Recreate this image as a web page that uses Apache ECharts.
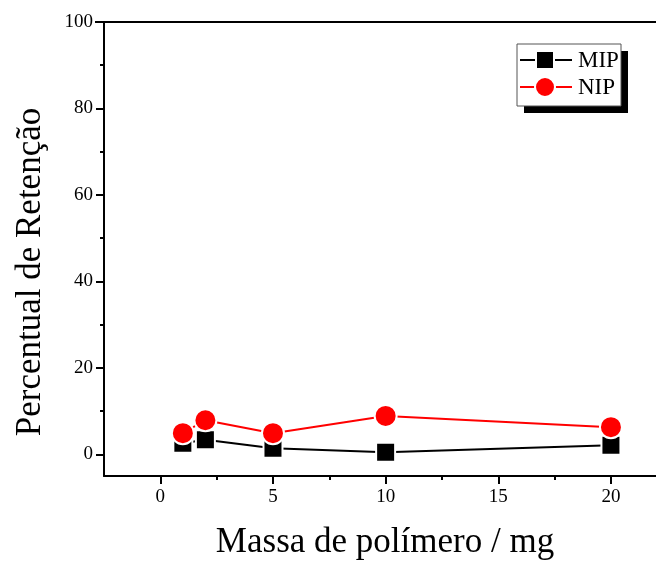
<!DOCTYPE html>
<html>
<head>
<meta charset="utf-8">
<script src="https://cdn.jsdelivr.net/npm/echarts@6/dist/echarts.min.js"></script>
<style>html,body{margin:0;padding:0;background:#fff}#c{width:656px;height:561px}</style>
</head>
<body>
<div id="c"></div>
<script>
const massas = [1, 2, 5, 10, 20];
const mip = [2.6, 3.4, 1.4, 0.5, 2.1];
const nip = [4.9, 7.9, 4.9, 8.9, 6.3];
const seriesNames = ['MIP', 'NIP'];
const xMajor = [0, 5, 10, 15, 20];
const xMinor = [2.5, 7.5, 12.5, 17.5];
const yMajor = [0, 20, 40, 60, 80, 100];
const yMinor = [10, 30, 50, 70, 90];
const xTitle = 'Massa de polímero / mg';
const yTitle = 'Percentual de Retenção';

const FONT = '"Liberation Serif","Times New Roman",serif';
const chart = echarts.init(document.getElementById('c'), null, {renderer: 'canvas'});
const pairs = (xs, ys) => xs.map((x, i) => [x, ys[i]]);

const baseX = {type: 'value', min: -2.5, max: 22, splitLine: {show: false}};
const baseY = {type: 'value', min: -5, max: 100, splitLine: {show: false}};

// legend box geometry
const LX = 517, LY = 44, LW = 104, LH = 62, SH = 7;
const legendItems = [
  {name: seriesNames[0], y: 60, color: '#000', shape: 'rect'},
  {name: seriesNames[1], y: 87, color: '#ff0000', shape: 'circle'}
];
const legendGraphics = [
  {type: 'rect', shape: {x: LX + SH, y: LY + SH, width: LW, height: LH}, style: {fill: '#000'}, z: 100},
  {type: 'rect', shape: {x: LX, y: LY, width: LW, height: LH}, style: {fill: '#fff', stroke: '#555', lineWidth: 1}, z: 101}
];
legendItems.forEach(it => {
  legendGraphics.push({type: 'line', shape: {x1: 520, y1: it.y, x2: 572, y2: it.y}, style: {stroke: it.color, lineWidth: 2}, z: 102});
  if (it.shape === 'rect') {
    legendGraphics.push({type: 'rect', shape: {x: 545 - 9, y: it.y - 9, width: 18, height: 18}, style: {fill: it.color, stroke: '#fff', lineWidth: 2}, z: 103});
  } else {
    legendGraphics.push({type: 'circle', shape: {cx: 545, cy: it.y, r: 10}, style: {fill: it.color, stroke: '#fff', lineWidth: 2}, z: 103});
  }
  legendGraphics.push({type: 'text', x: 578, y: it.y + 1, style: {text: it.name, font: '23px ' + FONT, fill: '#000', textVerticalAlign: 'middle', verticalAlign: 'middle'}, z: 103});
});

chart.setOption({
  animation: false,
  backgroundColor: '#fff',
  grid: {left: 104, top: 22, right: 0, bottom: 85},
  graphic: legendGraphics.concat([
    {type: 'text', x: 385, y: 543, style: {text: xTitle, font: '35px ' + FONT, fill: '#000', align: 'center', verticalAlign: 'middle'}},
    {type: 'text', x: 31, y: 272, rotation: Math.PI / 2, style: {text: yTitle, font: '35px ' + FONT, fill: '#000', align: 'center', verticalAlign: 'middle'}},
    {type: 'line', shape: {x1: 95, y1: 22, x2: 105, y2: 22}, style: {stroke: '#000', lineWidth: 2}}
  ]),
  xAxis: [
    Object.assign({}, baseX, {
      position: 'bottom',
      axisLine: {show: true, onZero: false, lineStyle: {color: '#000', width: 2}},
      axisTick: {show: true, length: 8, customValues: xMajor, lineStyle: {color: '#000', width: 2}},
      axisLabel: {show: true, customValues: xMajor, margin: 12, fontFamily: FONT, fontSize: 19, color: '#000'}
    }),
    Object.assign({}, baseX, {
      position: 'bottom',
      axisLine: {show: false, onZero: false},
      axisTick: {show: true, length: 4, customValues: xMinor, lineStyle: {color: '#000', width: 2}},
      axisLabel: {show: false}
    }),
    Object.assign({}, baseX, {
      position: 'top',
      axisLine: {show: true, onZero: false, lineStyle: {color: '#000', width: 2}},
      axisTick: {show: false},
      axisLabel: {show: false}
    })
  ],
  yAxis: [
    Object.assign({}, baseY, {
      position: 'left',
      axisLine: {show: true, onZero: false, lineStyle: {color: '#000', width: 2}},
      axisTick: {show: true, length: 8, customValues: yMajor, lineStyle: {color: '#000', width: 2}},
      axisLabel: {show: true, customValues: yMajor, margin: 11, fontFamily: FONT, fontSize: 19, color: '#000'}
    }),
    Object.assign({}, baseY, {
      position: 'left',
      axisLine: {show: false, onZero: false},
      axisTick: {show: true, length: 4, customValues: yMinor, lineStyle: {color: '#000', width: 2}},
      axisLabel: {show: false}
    })
  ],
  series: [
    {
      name: seriesNames[0], type: 'line', xAxisIndex: 0, yAxisIndex: 0,
      data: pairs(massas, mip),
      symbol: 'rect', symbolSize: 19,
      lineStyle: {color: '#000', width: 2},
      itemStyle: {color: '#000', borderColor: '#fff', borderWidth: 2}
    },
    {
      name: seriesNames[1], type: 'line', xAxisIndex: 0, yAxisIndex: 0,
      data: pairs(massas, nip),
      symbol: 'circle', symbolSize: 22,
      lineStyle: {color: '#ff0000', width: 2},
      itemStyle: {color: '#ff0000', borderColor: '#fff', borderWidth: 2}
    }
  ]
});
</script>
</body>
</html>
